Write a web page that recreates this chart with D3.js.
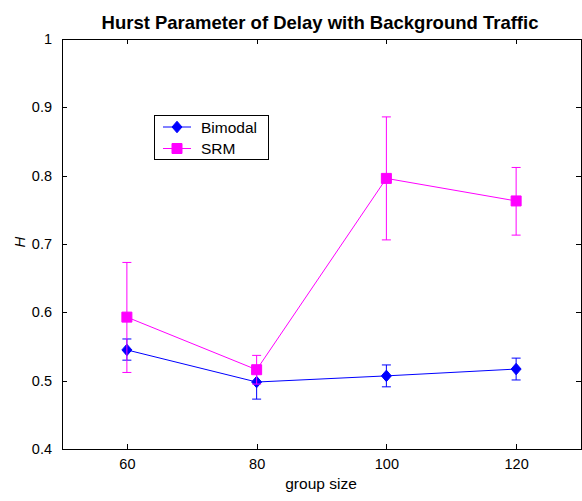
<!DOCTYPE html>
<html>
<head>
<meta charset="utf-8">
<script src="https://cdn.jsdelivr.net/npm/d3@7"></script>
<style>
  html, body { margin: 0; padding: 0; background: #fff; }
  svg { display: block; }
  text { font-family: Arial, "Liberation Sans", sans-serif; fill: #000; }
</style>
</head>
<body>
<svg id="chart" width="582" height="501"></svg>
<script>
// Group sizes on the x axis
const groupSizes = [60, 80, 100, 120];

// Bimodal: Hurst estimate with lower / upper error limits
const bimodalH     = [0.545, 0.498, 0.507, 0.517];
const bimodalLower = [0.530, 0.473, 0.491, 0.501];
const bimodalUpper = [0.561, 0.522, 0.523, 0.533];

// SRM: Hurst estimate with lower / upper error limits
const srmH     = [0.593, 0.516, 0.796, 0.763];
const srmLower = [0.512, 0.495, 0.706, 0.713];
const srmUpper = [0.673, 0.537, 0.886, 0.812];

// Axis ticks
const xTicks = [60, 80, 100, 120];
const yTicks = [0.4, 0.5, 0.6, 0.7, 0.8, 0.9, 1];

const svg = d3.select("#chart");
const plot = { left: 62, right: 581, top: 39, bottom: 449 };

const x = d3.scaleLinear().domain([50, 130]).range([plot.left, plot.right]);
const y = d3.scaleLinear().domain([0.4, 1]).range([plot.bottom, plot.top]);

// Plot frame
svg.append("rect")
  .attr("x", plot.left).attr("y", plot.top)
  .attr("width", plot.right - plot.left).attr("height", plot.bottom - plot.top)
  .attr("fill", "#fff").attr("stroke", "#000").attr("stroke-width", 1)
  .attr("shape-rendering", "crispEdges");

const tickLen = 5;

// Bottom axis (ticks point inward) with labels
const xAxis = d3.axisBottom(x).tickValues(xTicks).tickSizeInner(-tickLen).tickSizeOuter(0).tickPadding(10);
const gx = svg.append("g").attr("transform", `translate(0,${plot.bottom})`).call(xAxis);
// Top axis ticks only
const gxt = svg.append("g").attr("transform", `translate(0,${plot.top})`)
  .call(d3.axisTop(x).tickValues(xTicks).tickSizeInner(-tickLen).tickSizeOuter(0).tickFormat(""));

// Left axis with labels
const yAxis = d3.axisLeft(y).tickValues(yTicks).tickSizeInner(-tickLen).tickSizeOuter(0).tickPadding(10)
  .tickFormat(d => d === 1 ? "1" : d3.format(".1f")(d));
const gy = svg.append("g").attr("transform", `translate(${plot.left},0)`).call(yAxis);
// Right axis ticks only
const gyr = svg.append("g").attr("transform", `translate(${plot.right},0)`)
  .call(d3.axisRight(y).tickValues(yTicks).tickSizeInner(-tickLen).tickSizeOuter(0).tickFormat(""));

[gx, gxt, gy, gyr].forEach(g => {
  g.select(".domain").remove();
  g.selectAll(".tick line").attr("stroke", "#000").attr("shape-rendering", "crispEdges");
  g.selectAll(".tick text").attr("font-size", 14.5).attr("font-family", "Arial, 'Liberation Sans', sans-serif").attr("fill", "#000");
});

// Titles
svg.append("text")
  .attr("x", 320).attr("y", 29)
  .attr("text-anchor", "middle")
  .attr("font-size", 18.5).attr("font-weight", "bold")
  .text("Hurst Parameter of Delay with Background Traffic");

svg.append("text")
  .attr("x", 321).attr("y", 489)
  .attr("text-anchor", "middle")
  .attr("font-size", 15.5)
  .text("group size");

svg.append("text")
  .attr("transform", "translate(25,242) rotate(-90)")
  .attr("text-anchor", "middle")
  .attr("font-size", 15).attr("font-style", "italic")
  .text("H");

// Diamond marker slightly taller than wide
const diamond = {
  draw(context, size) {
    const w = Math.sqrt(size) / 2, h = w * 1.15;
    context.moveTo(0, -h);
    context.lineTo(w, 0);
    context.lineTo(0, h);
    context.lineTo(-w, 0);
    context.closePath();
  }
};

// Series definitions
const series = [
  { name: "Bimodal", color: "#0000ff", marker: diamond,        size: 100, h: bimodalH, lo: bimodalLower, hi: bimodalUpper },
  { name: "SRM",     color: "#ff00ff", marker: d3.symbolSquare, size: 100, h: srmH,     lo: srmLower,     hi: srmUpper }
];

const capHalf = 4.5;
const line = d3.line().x(d => x(d.x)).y(d => y(d.h));

series.forEach(s => {
  const pts = groupSizes.map((g, i) => ({ x: g, h: s.h[i], lo: s.lo[i], hi: s.hi[i] }));
  const g = svg.append("g");

  // Error bars
  pts.forEach(p => {
    const cx = x(p.x);
    g.append("line").attr("x1", cx).attr("x2", cx).attr("y1", y(p.lo)).attr("y2", y(p.hi))
      .attr("stroke", s.color).attr("stroke-width", 1);
    [p.lo, p.hi].forEach(v => {
      g.append("line").attr("x1", cx - capHalf).attr("x2", cx + capHalf).attr("y1", y(v)).attr("y2", y(v))
        .attr("stroke", s.color).attr("stroke-width", 1);
    });
  });

  // Connecting line
  g.append("path").datum(pts).attr("d", line)
    .attr("fill", "none").attr("stroke", s.color).attr("stroke-width", 1);

  // Markers
  g.selectAll("path.marker").data(pts).enter().append("path")
    .attr("class", "marker")
    .attr("d", d3.symbol().type(s.marker).size(s.size))
    .attr("transform", d => `translate(${x(d.x)},${y(d.h)})`)
    .attr("fill", s.color).attr("stroke", s.color).attr("stroke-width", 1);
});

// Legend
const legend = svg.append("g");
legend.append("rect")
  .attr("x", 154.5).attr("y", 115.5).attr("width", 114).attr("height", 44)
  .attr("fill", "#fff").attr("stroke", "#000").attr("stroke-width", 1);

series.forEach((s, i) => {
  const ly = 127 + i * 21.5;
  legend.append("line").attr("x1", 163).attr("x2", 191).attr("y1", ly).attr("y2", ly)
    .attr("stroke", s.color).attr("stroke-width", 1);
  legend.append("path")
    .attr("d", d3.symbol().type(s.marker).size(s.size)())
    .attr("transform", `translate(177,${ly})`)
    .attr("fill", s.color).attr("stroke", s.color).attr("stroke-width", 1);
  legend.append("text")
    .attr("x", 201).attr("y", ly + 5.5)
    .attr("font-size", 15.5)
    .text(s.name);
});
</script>
</body>
</html>
